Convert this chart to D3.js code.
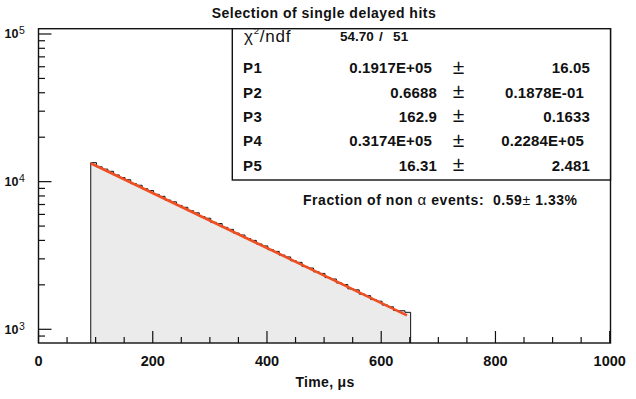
<!DOCTYPE html>
<html><head><meta charset="utf-8">
<script src="https://cdn.jsdelivr.net/npm/d3@7"></script>
<style>
html,body{margin:0;padding:0;background:#fff;}
svg{display:block;font-family:"Liberation Sans",Arial,Helvetica,sans-serif;}
</style></head>
<body><svg id="c" width="636" height="399"></svg>
<script>
// ---- data ----
const binLow = 91.5;      // lower edge of first bin (µs)
const binWidth = 10;      // µs
const counts = [13450, 12600, 12150, 11750, 11100, 10650, 10300, 9700, 9450, 8950,
  8700, 8200, 7950, 7500, 7300, 6900, 6700, 6350, 6150, 5800,
  5650, 5300, 5200, 4900, 4750, 4480, 4350, 4120, 4000, 3780,
  3670, 3460, 3370, 3180, 3090, 2910, 2840, 2660, 2600, 2450,
  2390, 2240, 2190, 2060, 2010, 1880, 1850, 1730, 1690, 1590,
  1550, 1460, 1420, 1340, 1335, 1303];
const fitTime = [91.5, 645];
const fitValue = [13330, 1244];
const xMajorTicks = [0, 200, 400, 600, 800, 1000];
const xMinorStep = 50;
const yDecades = [1000, 10000, 100000];
const titleText = "Selection of single delayed hits";
const xTitle = "Time, \u03bcs";
const statNames = ["P1", "P2", "P3", "P4", "P5"];
const statValues = ["0.1917E+05", "0.6688", "162.9", "0.3174E+05", "16.31"];
const statErrors = ["16.05", "0.1878E-01", "0.1633", "0.2284E+05", "2.481"];
const chi2 = "54.70", ndf = "51";
const fracValue = "0.59", fracError = "1.33%";

// ---- layout ----
const svg = d3.select("#c");
const L = 38.5, R = 610.5, T = 28.7, B = 343;
const x = d3.scaleLinear().domain([0, 1000]).range([L, R - 0.8]);
const y = d3.scaleLog().domain([807.6, 108600]).range([B, T]);

svg.append("rect").attr("width", 636).attr("height", 399).attr("fill", "#fff");

// histogram
const pts = [[x(binLow), B]];
counts.forEach((c, i) => {
  const lo = binLow + i * binWidth, hi = lo + binWidth;
  pts.push([x(lo), y(c)], [x(hi), y(c)]);
});
pts.push([x(binLow + counts.length * binWidth), B]);
svg.append("path").attr("d", d3.line()(pts))
  .attr("fill", "#ebebeb").attr("stroke", "#111").attr("stroke-width", 1);

// fit line
svg.append("path")
  .attr("d", d3.line().x(d => x(d[0])).y(d => y(d[1]))(fitTime.map((t, i) => [t, fitValue[i]])))
  .attr("fill", "none").attr("stroke", "#f04e23").attr("stroke-width", 2.6);

// frame
svg.append("rect").attr("x", L).attr("y", T).attr("width", R - L).attr("height", B - T)
  .attr("fill", "none").attr("stroke", "#111").attr("stroke-width", 1.4);

// x ticks
const g = svg.append("g").attr("stroke", "#111").attr("stroke-width", 1.2);
for (let v = 0; v <= 1000; v += xMinorStep) {
  const major = xMajorTicks.includes(v);
  g.append("line").attr("x1", x(v)).attr("x2", x(v)).attr("y1", B).attr("y2", B - (major ? 12 : 6));
}
// y ticks
yDecades.forEach(d => {
  for (let k = 1; k <= 9; k++) {
    const v = d * k;
    if (v > 108600) continue;
    g.append("line").attr("x1", L).attr("x2", L + (k === 1 ? 13 : 6.5)).attr("y1", y(v)).attr("y2", y(v));
  }
});
g.append("line").attr("x1", L).attr("x2", L + 6.5).attr("y1", y(900)).attr("y2", y(900));

// x labels
xMajorTicks.forEach(v => {
  svg.append("text").attr("x", x(v)).attr("y", 366).attr("text-anchor", "middle")
    .attr("font-size", 14.5).attr("font-weight", "bold").attr("fill", "#111").text(v);
});
// y labels
yDecades.forEach(d => {
  const e = Math.round(Math.log10(d));
  svg.append("text").attr("x", 18.5).attr("y", y(d) + 4.5).attr("text-anchor", "end")
    .attr("font-size", 12.5).attr("font-weight", "bold").attr("fill", "#111").text("10");
  svg.append("text").attr("x", 19).attr("y", y(d) + 0.5)
    .attr("font-size", 10.5).attr("fill", "#111").text(e);
});

// titles
svg.append("text").attr("x", 324).attr("y", 18).attr("text-anchor", "middle")
  .attr("font-size", 14).attr("font-weight", "bold").attr("letter-spacing", 0.5)
  .attr("fill", "#111").text(titleText);
svg.append("text").attr("x", 325).attr("y", 387).attr("text-anchor", "middle")
  .attr("font-size", 14).attr("font-weight", "bold").attr("letter-spacing", 0.3)
  .attr("fill", "#111").text(xTitle);

// stats box
svg.append("rect").attr("x", 232.3).attr("y", T).attr("width", R - 232.3).attr("height", 180 - T)
  .attr("fill", "#fff").attr("stroke", "#111").attr("stroke-width", 1.4);
const chiT = svg.append("text").attr("x", 244).attr("y", 42).attr("font-size", 17)
  .attr("letter-spacing", 0.8).attr("fill", "#111");
chiT.append("tspan").text("\u03c7");
chiT.append("tspan").attr("font-size", 9.5).attr("dy", -8).text("2");
chiT.append("tspan").attr("dy", 8).text("/ndf");
const bold = (xx, yy, txt, anchor, fs, ls) => svg.append("text").attr("x", xx).attr("y", yy)
  .attr("text-anchor", anchor || "start").attr("font-size", fs || 15).attr("font-weight", "bold")
  .attr("letter-spacing", ls === undefined ? 0.15 : ls).attr("fill", "#111").text(txt);
bold(340, 41, chi2, "start", 13.5, 0);
bold(381, 41, "/", "middle", 13.5, 0);
bold(393, 41, ndf, "start", 13.5, 0.3);
const rowY = [73.3, 97.5, 121.8, 146, 170.5];
statNames.forEach((n, i) => {
  bold(243, rowY[i], n, "start", 15, 0.5);
  const isE = statValues[i].includes("E");
  bold(isE ? 432 : 437, rowY[i], statValues[i], "end");
  svg.append("text").attr("x", 458.5).attr("y", rowY[i] + 0.5).attr("text-anchor", "middle")
    .attr("font-size", 21).attr("fill", "#111").text("\u00b1");
  const isE2 = statErrors[i].includes("E");
  bold(isE2 ? 584 : 590, rowY[i], statErrors[i], "end");
});

// fraction text
const fr = svg.append("text").attr("x", 303).attr("y", 205).attr("font-size", 14)
  .attr("font-weight", "bold").attr("letter-spacing", 0.55).attr("style", "white-space:pre")
  .attr("fill", "#111");
fr.append("tspan").text("Fraction of non ");
fr.append("tspan").attr("font-weight", "normal").attr("font-size", 15).text("\u03b1");
fr.append("tspan").text(" events:  " + fracValue);
fr.append("tspan").attr("font-weight", "normal").text("\u00b1");
fr.append("tspan").text(" " + fracError);
</script></body></html>
